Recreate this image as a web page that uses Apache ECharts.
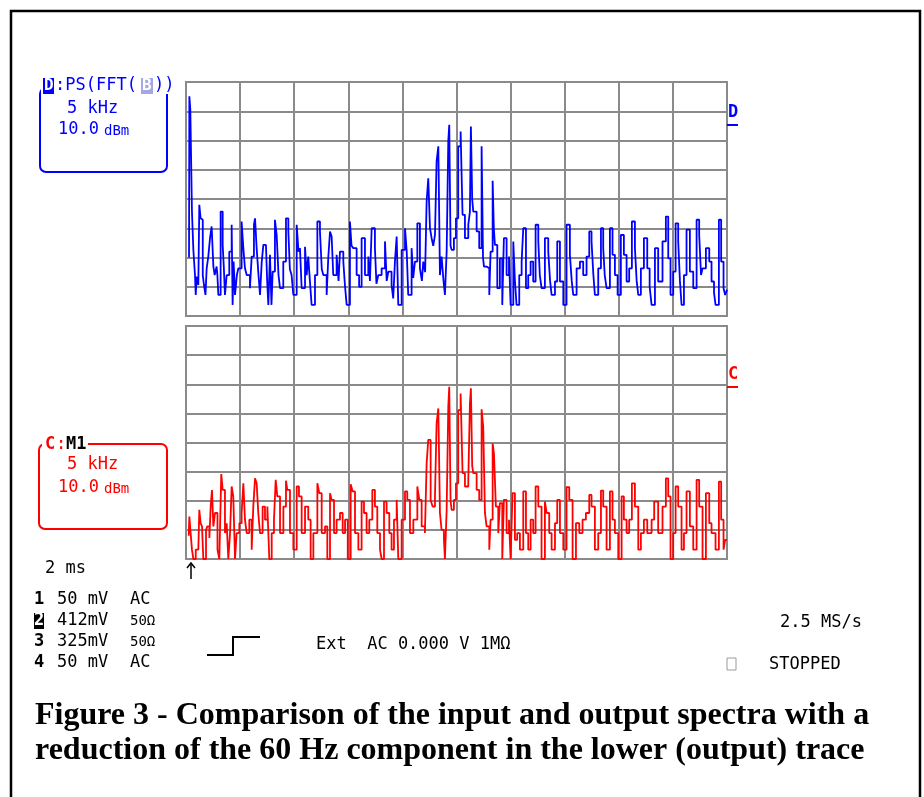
<!DOCTYPE html>
<html>
<head>
<meta charset="utf-8">
<script src="https://cdn.jsdelivr.net/npm/echarts@6/dist/echarts.min.js"></script>
<style>
  html, body { margin: 0; padding: 0; background: #fff; }
  #chart { width: 924px; height: 797px; }
</style>
</head>
<body>
<div id="chart"></div>
<script>
// 上面的迹线 D : PS(FFT(B))  —— 频率 kHz, 电平 dB (相对屏幕底部)
const topFreq = [
  0.28,0.31,0.40,0.50,0.55,0.68,0.83,0.90,0.99,1.14,
  1.23,1.35,1.45,1.55,1.66,1.80,1.91,2.06,2.22,2.37,
  2.53,2.65,2.83,2.90,2.99,3.20,3.39,3.50,3.60,3.76,
  4.00,4.22,4.31,4.40,4.53,4.70,4.84,5.14,5.30,5.45,
  5.61,5.91,6.07,6.28,6.38,6.53,6.70,6.84,7.00,7.15,
  7.39,7.50,7.61,7.76,7.90,8.01,8.22,8.38,8.55,8.69,
  8.99,9.24,9.46,9.60,9.76,9.92,10.23,10.40,10.53,10.69,
  11.00,11.15,11.30,11.45,11.61,11.92,12.14,12.38,12.55,12.69,
  13.00,13.15,13.31,13.46,13.61,13.92,14.10,14.23,14.54,14.70,
  14.85,15.15,15.30,15.46,15.77,16.00,16.23,16.54,16.85,17.00,
  17.16,17.46,17.60,17.77,18.08,18.39,18.55,18.70,19.00,19.15,
  19.31,19.47,19.62,19.93,20.24,20.40,20.54,20.85,21.00,21.16,
  21.38,21.62,21.80,21.93,22.10,22.24,22.39,22.55,22.70,22.85,
  23.01,23.16,23.32,23.47,23.62,23.80,23.93,24.09,24.24,24.33,
  24.45,24.55,24.76,24.95,25.16,25.38,25.56,25.78,26.09,26.24,
  26.33,26.45,26.55,26.86,27.10,27.32,27.45,27.54,27.78,28.03,
  28.15,28.34,28.45,28.55,28.77,29.01,29.23,29.38,29.63,29.85,
  30.00,30.25,30.40,30.55,30.80,31.02,31.17,31.42,31.63,31.85,
  32.09,32.31,32.56,32.70,32.86,33.17,33.48,33.65,33.79,34.10,
  34.31,34.56,34.87,35.17,35.48,35.65,35.79,36.10,36.41,36.71,
  37.02,37.27,37.48,37.65,37.79,38.10,38.35,38.56,38.70,38.87,
  39.18,39.42,39.64,39.89,40.19,40.47,40.72,40.96,41.21,41.49,
  41.65,41.80,42.04,42.32,42.63,42.85,43.03,43.34,43.64,44.04,
  44.35,44.57,44.78,45.03,45.25,45.49,45.65,45.80,46.02,46.26,
  46.57,46.88,47.19,47.43,47.60,47.74,48.05,48.36,48.57,48.80,
  48.94,49.25,49.46,49.68,49.83,50.00
]
const topLevel = [
  20,75.1,70.5,70.5,35.7,22.6,14.0,7.2,13.5,10.6,
  38.0,33.4,32.9,14.0,10.6,7.2,16.3,20.3,26.6,30.6,
  16.9,14.0,16.9,14.0,7.2,35.7,24.3,16.3,7.2,14.0,
  22.0,31.2,3.8,18.6,7.2,14.0,16.3,32.3,23.2,16.3,
  14.0,9.5,20.3,31.2,33.4,23.2,14.0,7.2,18.6,24.3,
  24.9,12.0,3.8,20.9,3.8,15.2,32.9,27.7,14.0,9.5,
  18.6,33.4,28.9,16.0,14.0,7.2,31.2,22.0,23.2,9.5,
  23.7,14.0,20.3,12.0,3.8,14.0,32.3,28.9,16.0,14.0,
  7.2,20.0,28.9,27.2,14.0,20.9,12.0,22.0,18.6,10.0,
  3.8,32.3,24.0,23.2,14.0,10.0,26.6,14.0,20.3,12.0,
  30.0,23.2,11.0,14.0,16.3,25.5,12.0,15.2,10.6,6.0,
  18.6,27.2,3.8,22.6,30.0,22.0,7.2,23.2,13.0,18.6,
  31.7,16.3,12.0,18.6,15.0,39.2,47.1,30.0,26.6,24.0,
  27.7,52.9,58.0,14.0,20.3,12.0,7.2,22.0,59.7,65.4,
  24.0,22.6,26.6,33.4,58.0,63.1,34.6,26.6,31.2,35.7,
  64.8,40.0,35.7,28.9,23.2,58.0,20.0,16.9,16.3,7.2,
  22.0,46.2,30.0,24.3,9.5,19.7,3.8,26.6,14.0,20.3,
  3.8,25.5,12.0,3.8,14.0,18.6,30.0,9.5,14.0,18.6,
  11.8,31.2,25.5,14.0,9.5,26.6,22.0,12.0,7.2,11.8,
  25.5,11.8,3.8,31.2,20.9,12.0,7.2,16.3,18.6,14.0,
  20.3,28.9,25.5,14.0,7.2,16.3,30.0,23.2,14.0,9.5,
  30.0,20.9,14.0,7.2,27.7,20.9,11.8,16.3,32.3,23.2,
  12.0,7.2,16.3,26.6,16.3,10.0,3.8,23.2,11.8,25.5,
  34.0,19.7,7.2,15.2,31.7,25.5,12.0,3.8,14.0,29.5,
  15.2,9.5,32.9,27.7,14.0,16.3,23.2,18.6,11.8,8.0,
  3.8,32.9,18.6,9.5,7.2,9.0
]

// 下面的迹线 C : M1
const botFreq = [
  0.25,0.31,0.43,0.55,0.68,0.90,1.14,1.23,1.35,1.48,
  1.60,1.85,1.97,2.16,2.28,2.40,2.53,2.68,2.91,3.08,
  3.26,3.39,3.60,3.76,3.91,4.07,4.22,4.37,4.53,4.68,
  4.93,5.14,5.30,5.45,5.61,5.85,6.07,6.22,6.38,6.53,
  6.68,6.84,7.08,7.30,7.52,7.70,7.92,8.13,8.29,8.44,
  8.69,9.00,9.24,9.36,9.61,9.92,10.23,10.44,10.69,11.00,
  11.30,11.52,11.77,12.14,12.32,12.54,12.85,13.06,13.31,13.46,
  13.68,13.92,14.23,14.48,14.70,14.95,15.22,15.40,15.62,15.93,
  16.23,16.45,16.69,16.94,17.22,17.46,17.68,17.93,18.08,18.30,
  18.54,18.79,19.00,19.22,19.47,19.62,19.93,20.24,20.45,20.70,
  21.01,21.38,21.56,21.78,22.08,22.24,22.39,22.61,22.79,23.01,
  23.16,23.32,23.47,23.62,23.84,23.93,24.09,24.24,24.33,24.45,
  24.55,24.76,24.95,25.16,25.38,25.56,25.78,26.09,26.24,26.33,
  26.45,26.55,26.86,27.10,27.32,27.47,27.63,27.78,28.03,28.15,
  28.34,28.46,28.64,28.86,29.01,29.23,29.38,29.63,29.85,30.00,
  30.18,30.40,30.61,30.86,31.17,31.42,31.63,31.85,32.09,32.31,
  32.56,32.86,33.17,33.33,33.57,33.79,34.10,34.31,34.56,34.87,
  35.17,35.42,35.73,36.04,36.35,36.65,36.96,37.27,37.48,37.79,
  38.10,38.35,38.56,38.87,39.18,39.42,39.64,39.95,40.26,40.47,
  40.72,40.96,41.21,41.49,41.80,42.04,42.32,42.63,43.03,43.27,
  43.64,44.04,44.35,44.57,44.78,45.03,45.25,45.49,45.80,46.02,
  46.26,46.57,46.88,47.19,47.43,47.74,48.05,48.36,48.57,48.94,
  49.25,49.46,49.68,49.83,50.00
]
const botLevel = [
  8,14.6,8.9,3.2,0,3.2,3.2,16.9,12.3,11.2,
  0,10.0,11.2,7.2,18.0,23.7,11.2,15.8,3.2,0,
  29.2,23.7,8.9,12.3,0,8.9,24.9,21.5,0,8.9,
  12.3,15.8,26.0,13.5,8.9,13.5,3.2,18.0,27.7,26.0,
  15.8,8.9,18.0,13.5,18.0,0,8.9,13.5,27.2,21.5,
  8.9,18.0,26.9,23.7,8.9,3.2,24.9,21.5,8.9,18.0,
  13.5,0,8.9,26.0,22.6,8.9,11.2,0,22.6,20.3,
  8.9,13.5,15.8,8.9,13.5,0,25.7,23.2,8.9,3.2,
  19.7,15.8,8.9,13.5,23.7,18.0,8.9,3.2,0,19.7,
  15.8,8.9,3.2,13.5,20.3,0,13.5,23.2,20.3,8.9,
  13.5,24.9,20.3,11.2,8.9,32.9,40.9,20.3,18.0,21.5,
  46.6,51.7,15.8,10.0,6.6,0,16.9,52.3,59.1,20.0,
  16.9,20.3,26.0,51.1,56.8,29.5,24.9,27.2,53.4,58.6,
  32.0,29.5,23.7,20.3,51.4,45.4,15.8,11.2,3.2,13.5,
  39.7,36.3,18.0,8.9,19.2,0,20.3,8.9,13.5,0,
  22.6,6.6,8.9,3.2,23.2,8.9,3.2,13.5,8.9,24.9,
  18.0,0,19.7,15.8,8.9,3.2,12.3,20.3,8.9,3.2,
  24.7,20.3,0,12.3,8.9,13.5,15.8,22.0,18.0,3.2,
  8.9,23.5,18.0,3.2,23.2,13.5,8.9,0,21.5,13.5,
  8.9,13.5,26.0,18.0,3.2,8.9,13.5,8.9,13.5,19.7,
  8.9,18.0,27.7,21.5,0,8.9,24.9,18.0,3.2,8.9,
  23.2,11.2,3.2,27.2,18.0,0,22.6,12.3,8.9,3.2,
  26.6,13.5,3.2,6.6,6.6
]

// 坐标轴：10 格 x 5 kHz, 8 格 x 10 dB
const freqMax = 50
const freqStep = 5
const levelMax = 80
const levelStep = 10

const channelRows = [
  ['1', '50 mV', 'AC'],
  ['2', '412mV', '50Ω'],
  ['3', '325mV', '50Ω'],
  ['4', '50 mV', 'AC'],
]
const captionLines = [
  'Figure 3 - Comparison of the input and output spectra with a',
  'reduction of the 60 Hz component in the lower (output) trace',
]

const MONO = 'DejaVu Sans Mono'
const GRID_COLOR = '#8a8a8a'
const BLUE = '#0000ff'
const RED = '#ff0000'

const chart = echarts.init(document.getElementById('chart'), null, { renderer: 'canvas' })

const pairs = (xs, ys) => xs.map((x, i) => [x, ys[i]])

const txt = (x, y, s, color, size, extra) => ({
  type: 'text',
  x: x,
  y: y,
  z: 10,
  style: Object.assign({
    text: s,
    fill: color,
    font: `${size}px "${MONO}"`,
    align: 'left',
    verticalAlign: 'middle',
  }, extra || {}),
})

const rect = (x, y, w, h, style, r) => ({
  type: 'rect',
  z: 5,
  shape: { x: x, y: y, width: w, height: h, r: r || 0 },
  style: style,
})

const line = (pts, color, w) => ({
  type: 'polyline',
  z: 10,
  shape: { points: pts },
  style: { stroke: color, lineWidth: w, fill: null },
})

const graphics = [
  // 外框 (no bottom edge)
  line([[11, 797], [11, 11], [920, 11], [920, 797]], '#000', 2.5),

  // D box
  rect(40, 88, 127, 84, { stroke: BLUE, lineWidth: 2, fill: null }, 6),
  rect(41, 77, 136, 17, { fill: '#fff' }),
  rect(43, 78, 11, 16, { fill: BLUE }),
  txt(44, 86, 'D', '#fff', 16, { font: `bold 16px "${MONO}"` }),
  txt(55, 86, ':PS(FFT(', BLUE, 17),
  rect(141, 78, 12, 16, { fill: '#a6a6e6' }),
  txt(142, 86, 'B', '#fff', 16, { font: `bold 16px "${MONO}"` }),
  txt(154, 86, '))', BLUE, 17),
  txt(67, 109, '5 kHz', BLUE, 17),
  txt(58, 130, '10.0', BLUE, 17),
  txt(104, 131, 'dBm', BLUE, 14),

  // D marker
  txt(728, 113, 'D', BLUE, 17, { font: `bold 17px "${MONO}"` }),
  line([[727, 125], [738, 125]], BLUE, 2),

  // C box
  rect(39, 444, 128, 85, { stroke: RED, lineWidth: 2, fill: null }, 6),
  rect(42, 436, 46, 17, { fill: '#fff' }),
  txt(45, 445, 'C', RED, 17, { font: `bold 17px "${MONO}"` }),
  txt(56, 445, ':', RED, 17),
  txt(66, 445, 'M1', '#000', 17, { font: `bold 17px "${MONO}"` }),
  txt(67, 465, '5 kHz', RED, 17),
  txt(58, 488, '10.0', RED, 17),
  txt(104, 489, 'dBm', RED, 14),

  // C marker
  txt(728, 375, 'C', RED, 17, { font: `bold 17px "${MONO}"` }),
  line([[727, 387], [738, 387]], RED, 2),

  // time base + trigger arrow
  txt(45, 569, '2 ms', '#000', 17),
  line([[191, 579], [191, 563]], '#000', 1.5),
  line([[187, 568], [191, 563], [195, 568]], '#000', 1.5),

  // trigger step symbol
  line([[207, 655], [233, 655], [233, 637], [260, 637]], '#000', 2),
  txt(316, 645, 'Ext  AC 0.000 V 1MΩ', '#000', 17),

  txt(780, 623, '2.5 MS/s', '#000', 17),
  rect(727, 658, 9, 12, { stroke: '#9a9a9a', lineWidth: 1, fill: null }),
  txt(769, 665, 'STOPPED', '#000', 17),
]

// channel list
channelRows.forEach((row, i) => {
  const y = 600 + i * 21
  if (row[0] === '2') {
    graphics.push(rect(34, y - 8, 10, 16, { fill: '#000' }))
    graphics.push(txt(34, y, row[0], '#fff', 17, { font: `bold 17px "${MONO}"` }))
  } else {
    graphics.push(txt(34, y, row[0], '#000', 17, { font: `bold 17px "${MONO}"` }))
  }
  graphics.push(txt(57, y, row[1], '#000', 17))
  graphics.push(txt(130, y, row[2], '#000', row[2] === 'AC' ? 17 : 14))
})

// caption
captionLines.forEach((s, i) => {
  graphics.push({
    type: 'text',
    x: 35,
    y: 716 + i * 35,
    z: 10,
    style: {
      text: s,
      fill: '#000',
      font: 'bold 32px "Liberation Serif"',
      align: 'left',
      verticalAlign: 'middle',
    },
  })
})

const axisX = (gridIndex) => ({
  type: 'value',
  gridIndex: gridIndex,
  min: 0,
  max: freqMax,
  interval: freqStep,
  axisLine: { show: false },
  axisTick: { show: false },
  axisLabel: { show: false },
  splitLine: { show: true, lineStyle: { color: GRID_COLOR, width: 2 } },
})
const axisY = (gridIndex) => ({
  type: 'value',
  gridIndex: gridIndex,
  min: 0,
  max: levelMax,
  interval: levelStep,
  axisLine: { show: false },
  axisTick: { show: false },
  axisLabel: { show: false },
  splitLine: { show: true, lineStyle: { color: GRID_COLOR, width: 2 } },
})

const option = {
  animation: false,
  backgroundColor: '#fff',
  grid: [
    { left: 186, top: 82, width: 541, height: 234, show: true, borderColor: GRID_COLOR, borderWidth: 2 },
    { left: 186, top: 326, width: 541, height: 233, show: true, borderColor: GRID_COLOR, borderWidth: 2 },
  ],
  xAxis: [axisX(0), axisX(1)],
  yAxis: [axisY(0), axisY(1)],
  series: [
    {
      name: 'D',
      type: 'line',
      xAxisIndex: 0,
      yAxisIndex: 0,
      data: pairs(topFreq, topLevel),
      step: 'end',
      showSymbol: false,
      lineStyle: { color: BLUE, width: 1.8 },
      z: 3,
    },
    {
      name: 'C',
      type: 'line',
      xAxisIndex: 1,
      yAxisIndex: 1,
      data: pairs(botFreq, botLevel),
      step: 'end',
      showSymbol: false,
      lineStyle: { color: RED, width: 1.8 },
      z: 3,
    },
  ],
  graphic: graphics,
}

chart.setOption(option)
</script>
</body>
</html>
